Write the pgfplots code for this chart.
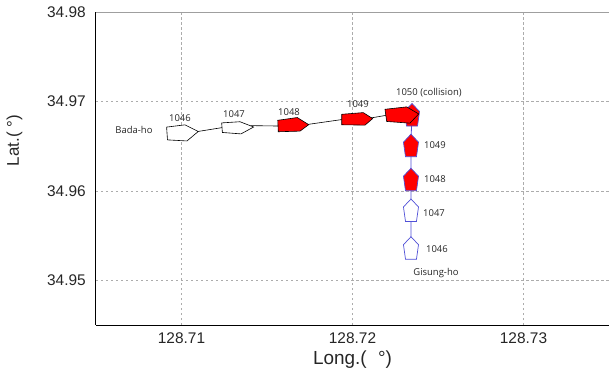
\documentclass[border=0pt]{standalone}
\usepackage{pgfplots}
\pgfplotsset{compat=1.18}
\usepackage{fontspec}
\setmainfont{Liberation Sans}
\newfontfamily\annfont{Open Sans}
\definecolor{gblue}{RGB}{80,80,215}
\begin{document}
\begin{tikzpicture}
\begin{axis}[
  at={(0,0)}, anchor=south west,
  scale only axis, width=513bp, height=313bp,
  xmin=128.705, xmax=128.735, ymin=34.945, ymax=34.98,
  xtick={128.71,128.72,128.73}, xticklabels={128.71,128.72,128.73},
  ytick={34.95,34.96,34.97,34.98}, yticklabels={34.95,34.96,34.97,34.98},
  ticklabel style={font=\fontsize{15.5}{18}\selectfont, text=black!85},
  xticklabel style={inner sep=0pt, anchor=north, yshift=-7.5bp},
  yticklabel style={inner sep=0pt, anchor=east, xshift=-10bp},
  major tick length=0pt,
  grid=major,
  grid style={gray!65, dash pattern=on 2.5bp off 2.5bp, line width=0.6bp},
  axis lines=left, axis line style={-, line width=1bp, black},
  xlabel={Long.(\hspace{0.6em}°)}, ylabel={Lat.(\hspace{0.3em}°)},
  xlabel style={font=\fontsize{19}{22}\selectfont, text=black!85, at={(axis description cs:0.5,-0.112)}, anchor=center},
  ylabel style={font=\fontsize{17}{20}\selectfont, text=black!85, at={(axis description cs:-0.159,0.59)}, anchor=center},
]
% Gisung-ho track
\addplot[gblue, line width=0.8bp] coordinates {
 (128.72342,34.95400) (128.72342,34.95820) (128.72342,34.96164) (128.72342,34.96544) (128.72348,34.96887)};
% Bada-ho track
\addplot[black, line width=0.6bp] coordinates {
 (128.71096,34.96664) (128.71237,34.96707) (128.71420,34.96729) (128.71564,34.96725)
 (128.71742,34.96744) (128.71937,34.96797) (128.72116,34.96818) (128.72195,34.96844)};
% Gisung-ho ships (pointing north)
\addplot[draw=gblue, fill=white, line width=0.7bp] coordinates {
 (128.72342,34.95487) (128.72386,34.95398) (128.72374,34.95236) (128.72310,34.95236) (128.72298,34.95398)} -- cycle;
\addplot[draw=gblue, fill=white, line width=0.7bp] coordinates {
 (128.72342,34.95909) (128.72386,34.95820) (128.72374,34.95657) (128.72310,34.95657) (128.72298,34.95820)} -- cycle;
\addplot[draw=gblue, fill=red, line width=0.7bp] coordinates {
 (128.72342,34.96253) (128.72386,34.96164) (128.72374,34.96002) (128.72310,34.96002) (128.72298,34.96164)} -- cycle;
\addplot[draw=gblue, fill=red, line width=0.7bp] coordinates {
 (128.72342,34.96634) (128.72386,34.96544) (128.72374,34.96382) (128.72310,34.96382) (128.72298,34.96544)} -- cycle;
\addplot[draw=gblue, fill=red, line width=0.7bp] coordinates {
 (128.72348,34.96977) (128.72392,34.96887) (128.72380,34.96725) (128.72316,34.96725) (128.72304,34.96887)} -- cycle;
% Bada-ho ships (pointing east)
\addplot[draw=black, fill=white, line width=0.6bp] coordinates {
 (128.70913,34.96713) (128.71020,34.96738) (128.71098,34.96664) (128.71032,34.96558) (128.70918,34.96570)} -- cycle;
\addplot[draw=black, fill=white, line width=0.6bp] coordinates {
 (128.71235,34.96760) (128.71342,34.96773) (128.71422,34.96714) (128.71348,34.96637) (128.71239,34.96653)} -- cycle;
\addplot[draw=black, fill=red, line width=0.6bp] coordinates {
 (128.71563,34.96789) (128.71677,34.96820) (128.71744,34.96740) (128.71693,34.96668) (128.71566,34.96661)} -- cycle;
\addplot[draw=black, fill=red, line width=0.6bp] coordinates {
 (128.71937,34.96856) (128.72063,34.96875) (128.72118,34.96808) (128.72073,34.96735) (128.71937,34.96739)} -- cycle;
\addplot[draw=black, fill=red, line width=0.6bp] coordinates {
 (128.72190,34.96912) (128.72317,34.96939) (128.72387,34.96860) (128.72336,34.96757) (128.72200,34.96776)} -- cycle;
% annotations
\begin{scope}[every node/.style={font=\annfont\fontsize{9.5}{11}\selectfont, text=black!85, inner sep=0pt}]
\node at (axis cs:128.70722,34.96681) {Bada-ho};
\node at (axis cs:128.70991,34.96809) {1046};
\node at (axis cs:128.71307,34.96854) {1047};
\node at (axis cs:128.71629,34.96882) {1048};
\node at (axis cs:128.72032,34.96966) {1049};
\node at (axis cs:128.72447,34.97100) {1050 (collision)};
\node at (axis cs:128.72482,34.96513) {1049};
\node at (axis cs:128.72482,34.96133) {1048};
\node at (axis cs:128.72477,34.95752) {1047};
\node at (axis cs:128.72494,34.95350) {1046};
\node at (axis cs:128.72488,34.95082) {Gisung-ho};
\end{scope}
\draw[gray!75, line width=0.9bp] (rel axis cs:0,1) -- (rel axis cs:1,1);
\end{axis}
\pgfresetboundingbox
\path[use as bounding box] (-96bp,-54bp) rectangle (513bp,325bp);
\end{tikzpicture}
\end{document}
